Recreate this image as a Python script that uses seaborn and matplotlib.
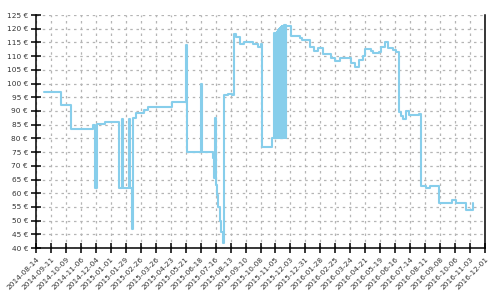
import matplotlib
matplotlib.use("Agg")
import matplotlib.pyplot as plt
import seaborn as sns
import pandas as pd

dates = [
    "2014-08-29", "2014-09-29", "2014-10-18", "2014-11-28", "2014-12-02",
    "2014-12-06", "2014-12-21", "2015-01-16", "2015-01-21", "2015-01-23",
    "2015-02-04", "2015-02-06", "2015-02-09", "2015-02-11", "2015-02-18",
    "2015-03-04", "2015-03-12", "2015-04-25", "2015-05-21", "2015-05-23",
    "2015-06-18", "2015-06-20", "2015-07-11", "2015-07-13", "2015-07-15",
    "2015-07-16", "2015-07-19", "2015-07-21", "2015-07-24", "2015-07-27",
    "2015-07-29", "2015-07-31", "2015-08-09", "2015-08-15", "2015-08-20",
    "2015-08-23", "2015-08-30", "2015-09-07", "2015-09-24", "2015-10-03",
    "2015-10-08", "2015-10-10", "2015-10-30",
    "2015-11-03", "2015-11-04", "2015-11-05", "2015-11-06", "2015-11-07",
    "2015-11-08", "2015-11-09", "2015-11-10", "2015-11-11", "2015-11-12",
    "2015-11-13", "2015-11-14", "2015-11-15", "2015-11-16", "2015-11-17",
    "2015-11-18", "2015-11-19", "2015-11-20", "2015-11-21", "2015-11-22",
    "2015-11-23", "2015-11-24", "2015-11-25",
    "2015-12-04", "2015-12-20", "2015-12-25", "2016-01-08", "2016-01-16",
    "2016-01-23", "2016-02-01", "2016-02-16", "2016-02-25", "2016-03-05",
    "2016-03-19", "2016-03-25", "2016-04-02", "2016-04-10", "2016-04-16",
    "2016-04-21", "2016-05-02", "2016-05-06", "2016-05-16", "2016-05-21",
    "2016-05-28", "2016-06-03", "2016-06-11", "2016-06-17", "2016-06-23",
    "2016-06-27", "2016-07-01", "2016-07-07", "2016-07-11", "2016-07-31",
    "2016-08-04", "2016-08-12", "2016-08-20", "2016-09-06", "2016-09-12",
    "2016-09-17", "2016-09-30", "2016-10-07", "2016-10-26", "2016-11-08",
]
prices = [
    97.0, 92.3, 83.5, 85.0, 62.0,
    85.2, 86.0, 62.0, 87.2, 62.0,
    87.2, 62.0, 47.0, 87.4, 89.4,
    90.2, 91.5, 93.3, 114.0, 75.0,
    100.0, 75.0, 72.7, 65.4, 87.3,
    63.0, 59.3, 55.0, 50.0, 46.0,
    42.0, 95.8, 96.1, 95.7, 118.0,
    117.1, 114.5, 115.3, 114.4, 113.3,
    114.4, 77.0, 80.0,
    118.3, 80.0, 118.6, 80.0, 118.9,
    80.0, 119.5, 80.0, 119.8, 80.0,
    120.1, 80.0, 120.7, 80.0, 120.9,
    80.0, 121.1, 80.0, 121.4, 80.0,
    121.4, 80.0, 121.0,
    117.5, 116.7, 115.9, 113.4, 111.9,
    112.9, 110.7, 109.4, 108.3, 109.4,
    109.2, 107.6, 106.1, 108.6, 110.2,
    112.6, 111.9, 111.2, 111.6, 113.4,
    115.3, 112.9, 112.1, 111.4, 89.7,
    88.2, 87.1, 90.0, 88.5, 88.9,
    62.7, 62.0, 62.7, 56.3, 56.5,
    56.3, 57.5, 56.5, 53.9, 56.3,
]

x_start = "2014-08-14"
x_end = "2016-12-01"
y_ticks = list(range(40, 130, 5))

df = pd.DataFrame({"date": pd.to_datetime(dates), "price": prices})

sns.set_style("ticks")
plt.rcParams["font.family"] = ["DejaVu Sans"]

fig = plt.figure(figsize=(5, 3), dpi=100)
ax = fig.add_axes([0.072, 0.173, 0.898, 0.777])

sns.lineplot(data=df, x="date", y="price", ax=ax, sort=False,
             drawstyle="steps-post", color="#87CEEB", linewidth=1.5,
             estimator=None, zorder=3)

ax.set_xlim(pd.Timestamp(x_start), pd.Timestamp(x_end))
ax.set_ylim(40, 125)

xt = pd.date_range(x_start, x_end, freq="28D")
ax.set_xticks(xt)
ax.set_xticklabels([d.strftime("%Y-%m-%d") for d in xt], rotation=45,
                   ha="right", rotation_mode="anchor", fontsize=5.3,
                   color="#333333")
ax.set_yticks(y_ticks)
ax.set_yticklabels([f"{v} €" for v in y_ticks], fontsize=5.3, color="#333333")

ax.tick_params(axis="both", direction="inout", length=6.5, width=1.1,
               color="black", pad=2.5)

ax.spines["top"].set_visible(False)
for s in ["left", "bottom", "right"]:
    ax.spines[s].set_visible(True)
    ax.spines[s].set_color("black")
    ax.spines[s].set_linewidth(1.1)
ax.set_xlabel("")
ax.set_ylabel("")

ax.grid(True, which="major", axis="both", color="#b5b5b5",
        linestyle="--", dashes=(2, 3), linewidth=0.9, zorder=1)

fig.savefig("out.png", dpi=100)
